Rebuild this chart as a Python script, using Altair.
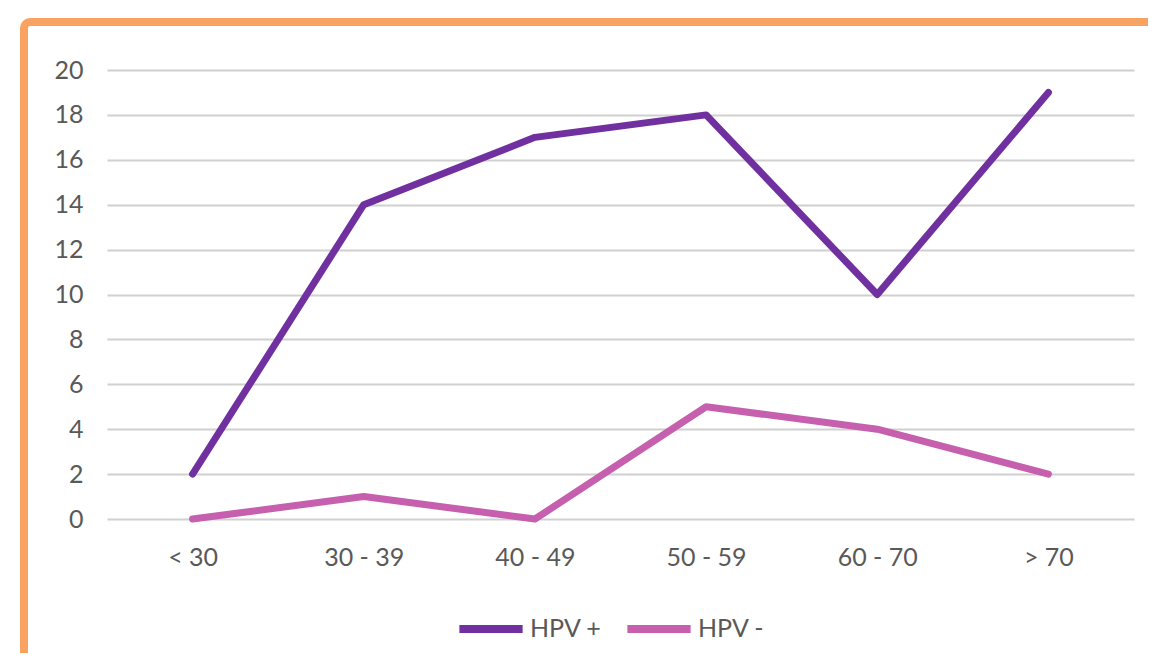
import altair as alt
import pandas as pd

categories = ["< 30", "30 - 39", "40 - 49", "50 - 59", "60 - 70", "> 70"]
hpv_pos = [2, 14, 17, 18, 10, 19]
hpv_neg = [0, 1, 0, 5, 4, 2]
series_names = ["HPV +", "HPV -"]
series_colors = ["#7030A0", "#C55FAE"]
y_ticks = list(range(0, 21, 2))

rows = []
for name, vals in zip(series_names, [hpv_pos, hpv_neg]):
    for c, v in zip(categories, vals):
        rows.append({"age": c, "value": v, "series": name})
df = pd.DataFrame(rows)

FONT = "Lato"
FS = 25

lines = alt.Chart(df).mark_line(strokeWidth=7, strokeCap="round", strokeJoin="round").encode(
    x=alt.X("age:N", sort=categories, title=None,
            scale=alt.Scale(paddingInner=0, paddingOuter=0.5),
            axis=alt.Axis(labelAngle=0, domain=False, ticks=False, grid=False,
                          labelPadding=26, labelFontSize=FS, labelColor="#595959", labelFont=FONT)),
    y=alt.Y("value:Q", title=None, scale=alt.Scale(domain=[0, 20]),
            axis=alt.Axis(values=y_ticks, domain=False, ticks=False, grid=True,
                          gridColor="#D0D0D0", gridWidth=2, labelPadding=24,
                          labelFontSize=FS, labelColor="#595959", labelFont=FONT)),
    color=alt.Color("series:N", sort=series_names,
                    scale=alt.Scale(domain=series_names, range=series_colors),
                    legend=alt.Legend(title=None, orient="none", legendX=348, legendY=523,
                                      direction="horizontal", symbolType="stroke",
                                      symbolSize=4000, symbolStrokeWidth=8,
                                      labelFontSize=FS, labelColor="#595959", labelFont=FONT,
                                      labelOffset=3, columnPadding=9)),
)

border = alt.Chart(alt.Data(values=[{}])).mark_rect(
    fill=None, stroke="#F9A262", strokeWidth=8, cornerRadius=6
).encode(
    x=alt.value(-83), x2=alt.value(1120), y=alt.value(-48), y2=alt.value(640)
)

chart = alt.layer(border, lines).properties(
    width=1027, height=449,
    padding={"left": 99, "top": 62, "right": 14, "bottom": 134},
    autosize=alt.AutoSizeParams(type="none"),
).configure_view(stroke=None)

chart.save("out.html", embed_options={"renderer": "svg", "actions": False})
